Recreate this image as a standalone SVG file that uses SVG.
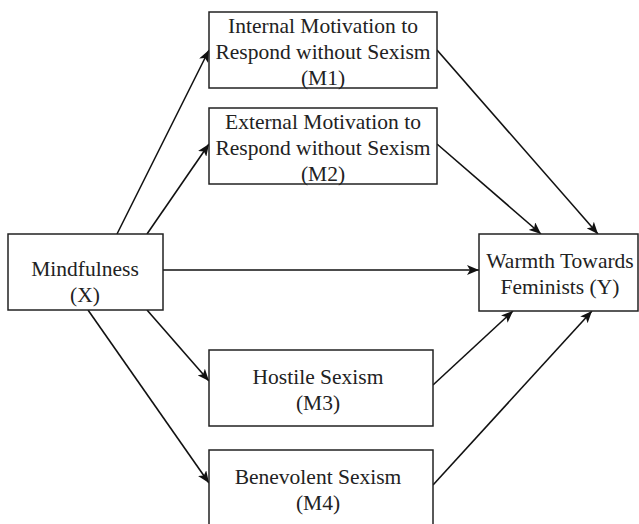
<svg xmlns="http://www.w3.org/2000/svg" width="639" height="524" viewBox="0 0 639 524">
<defs>
<marker id="ah" viewBox="0 0 12 10" refX="12" refY="5" markerWidth="12" markerHeight="10" markerUnits="userSpaceOnUse" orient="auto">
<path d="M0,0 L12,5 L0,10 L3,5 Z" fill="#111"/>
</marker>
</defs>
<style>
.box{fill:#fff;stroke:#222;stroke-width:1.5}
.t{font-family:"Liberation Serif","Times New Roman",serif;font-size:21.5px;fill:#222;text-anchor:middle}
.c{stroke:#111;stroke-width:1.6;fill:none;marker-end:url(#ah)}
</style>
<rect width="639" height="524" fill="#fff"/>
<g id="connectors">
<line class="c" x1="117" y1="234" x2="209" y2="50"/>
<line class="c" x1="147" y1="234" x2="209" y2="144"/>
<line class="c" x1="163" y1="270" x2="479" y2="270"/>
<line class="c" x1="147" y1="310" x2="209" y2="381"/>
<line class="c" x1="88" y1="310" x2="209" y2="483"/>
<line class="c" x1="437" y1="50" x2="598" y2="234"/>
<line class="c" x1="437" y1="144" x2="541" y2="234"/>
<line class="c" x1="433" y1="385" x2="513" y2="311"/>
<line class="c" x1="433" y1="485" x2="592" y2="311"/>
</g>
<g id="M1">
<rect class="box" x="209" y="12" width="228" height="76"/>
<text class="t" x="323" y="33">Internal Motivation to</text>
<text class="t" x="323" y="59">Respond without Sexism</text>
<text class="t" x="323" y="85">(M1)</text>
</g>
<g id="M2">
<rect class="box" x="209" y="108" width="228" height="76"/>
<text class="t" x="323" y="129">External Motivation to</text>
<text class="t" x="323" y="155">Respond without Sexism</text>
<text class="t" x="323" y="181">(M2)</text>
</g>
<g id="X">
<rect class="box" x="8" y="234" width="155" height="76"/>
<text class="t" x="85" y="276">Mindfulness</text>
<text class="t" x="85" y="302">(X)</text>
</g>
<g id="Y">
<rect class="box" x="479" y="234" width="159" height="77"/>
<text class="t" x="560" y="268">Warmth Towards</text>
<text class="t" x="560" y="294">Feminists (Y)</text>
</g>
<g id="M3">
<rect class="box" x="209" y="350" width="224" height="76"/>
<text class="t" x="318" y="384">Hostile Sexism</text>
<text class="t" x="318" y="410">(M3)</text>
</g>
<g id="M4">
<rect class="box" x="209" y="450" width="224" height="76"/>
<text class="t" x="318" y="484">Benevolent Sexism</text>
<text class="t" x="318" y="510">(M4)</text>
</g>
</svg>
